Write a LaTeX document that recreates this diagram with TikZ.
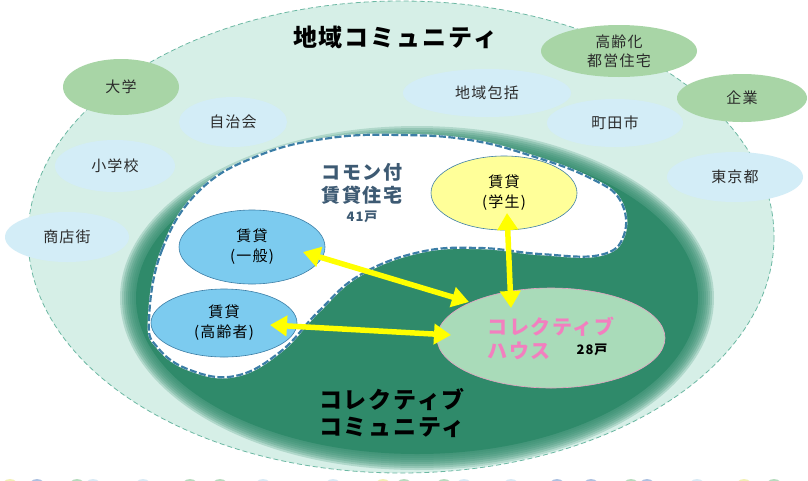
\documentclass[tikz,border=0pt]{standalone}
\usepackage{fontspec}
\setmainfont{Noto Sans CJK JP}[LetterSpace=8]
\usetikzlibrary{shapes.geometric,arrows.meta,positioning}
\definecolor{mint}{HTML}{D6EFE7}
\definecolor{ringdash}{HTML}{6CB8A3}
\definecolor{deepgreen}{HTML}{2F8A6A}
\definecolor{paleblue}{HTML}{D3EDF7}
\definecolor{sage}{HTML}{A8D5A6}
\definecolor{sky}{HTML}{7CCBEF}
\definecolor{lemon}{HTML}{FFFF99}
\definecolor{rimblue}{HTML}{3C7EA6}
\definecolor{housegreen}{HTML}{A9DBB9}
\definecolor{housepink}{HTML}{E7A1C3}
\definecolor{pinktext}{HTML}{F27FBF}
\definecolor{slate}{HTML}{3D5A73}
\definecolor{labelgray}{HTML}{2B2B2B}
\definecolor{arrowyellow}{HTML}{FFFF00}
\definecolor{dotblue}{HTML}{6A8FC8}
\definecolor{dotgreen}{HTML}{7CC08A}
\definecolor{dotpale}{HTML}{B8D8EC}
\definecolor{dotyellow}{HTML}{E8E27A}
\begin{document}
\begin{tikzpicture}[x=1pt,y=-1pt,
  bubble/.style={ellipse,inner sep=0pt,text=labelgray,align=center,
    font=\fontsize{15}{19}\selectfont},
  outerblue/.style={bubble,fill=paleblue},
  outergreen/.style={bubble,fill=sage},
  rental/.style={bubble,draw=rimblue,line width=0.6pt,text=black,
    font=\fontsize{15}{20}\selectfont},
  link/.style={{Triangle[length=17pt,width=20pt]}-{Triangle[length=17pt,width=20pt]},
    line width=5.5pt,draw=arrowyellow}
]
\useasboundingbox (0,0) rectangle (808,480);
\fill[white] (0,0) rectangle (808,480);
% bottom dots (cut off)
\foreach \x/\c in {10/dotyellow,37/dotblue,77/dotgreen,93/dotpale,143/dotpale,
  190/dotgreen,220/dotgreen,263/dotpale,333/dotpale,383/dotyellow,404/dotgreen,
  444/dotgreen,464/dotpale,511/dotpale,557/dotblue,591/dotblue,631/dotgreen,
  647/dotblue,697/dotpale,744/dotyellow,774/dotgreen}
  \fill[\c, opacity=0.55] (\x,488) circle (9);
% local community
\filldraw[fill=mint, draw=ringdash, dash pattern=on 5pt off 3pt, line width=0.8pt]
  (401,237) ellipse (373 and 236);
% collective community, soft edge
\foreach \k in {1,...,8}
  \fill[deepgreen, opacity=0.22] (417,298) ellipse ({281+2*\k} and {156+2*\k});
\fill[deepgreen] (417,298) ellipse (281 and 156);
% common rental housing
\def\blob{plot[smooth cycle, tension=0.7] coordinates {(149,320) (162,250) (200,190)
  (260,155) (330,138) (400,135) (470,140) (535,157) (590,178) (620,200) (624,235)
  (600,255) (540,254) (480,248) (420,252) (360,275) (318,312) (280,352) (235,376)
  (190,370) (158,348)}}
\filldraw[fill=white, draw=white, line width=2.4pt] \blob;
\draw[draw=rimblue, line width=2.2pt, dash pattern=on 7pt off 2.5pt] \blob;

% outer members
\node[outergreen, minimum width=116pt, minimum height=56pt] (daigaku) at (121,87) {大学};
\node[outerblue, minimum width=108pt, minimum height=50pt] (jichikai) at (233,122) {自治会};
\node[outerblue, minimum width=120pt, minimum height=52pt] (shogakko) at (115,166) {小学校};
\node[outerblue, minimum width=124pt, minimum height=50pt] (shotengai) at (67,237) {商店街};
\node[outerblue, minimum width=168pt, minimum height=48pt] (hokatsu) at (487,93) {地域包括};
\node[outerblue, minimum width=136pt, minimum height=48pt] (machida) at (615,123) {町田市};
\node[outergreen, minimum width=156pt, minimum height=52pt] (toei) at (619,51) {高齢化\\都営住宅};
\node[outergreen, minimum width=130pt, minimum height=48pt] (kigyo) at (742,98) {企業};
\node[outerblue, minimum width=136pt, minimum height=50pt] (tokyo) at (735,177) {東京都};

% titles
\node[font=\bfseries\fontsize{24}{27}\selectfont] (chiiki) at (395,37) {地域コミュニティ};
\node[font=\bfseries\fontsize{19}{23}\selectfont, text=slate, align=center] (common) at (362,184)
  {コモン付\\賃貸住宅};
\node[font=\bfseries\fontsize{13}{15}\selectfont, text=slate] (kosu41) at (362,217) {41戸};
\node[font=\bfseries\fontsize{23}{27}\selectfont, align=left] (collective) at (392,413)
  {コレクティブ\\コミュニティ};

% rental units
\node[rental, fill=sky, minimum width=146pt, minimum height=74pt] (ippan) at (252,247) {賃貸\\(一般)};
\node[rental, fill=sky, minimum width=146pt, minimum height=68pt] (korei) at (224,323) {賃貸\\(高齢者)};
\node[rental, fill=lemon, minimum width=146pt, minimum height=74pt] (gakusei) at (504,193) {賃貸\\(学生)};
\node[ellipse, fill=housegreen, draw=housepink, line width=0.6pt, inner sep=0pt,
  minimum width=228pt, minimum height=100pt, text=pinktext, align=left,
  font=\bfseries\fontsize{20}{24}\selectfont] (house) at (551,338) {コレクティブ\\ハウス};
\node[font=\bfseries\fontsize{13}{15}\selectfont] (kosu28) at (592,350) {28戸};

% links
\draw[link] ([shift={(51,5)}]ippan.center) -- ([shift={(-82,-36)}]house.center);
\draw[link] ([shift={(46,2)}]korei.center) -- ([shift={(-100,-3)}]house.center);
\draw[link] ([shift={(3,20)}]gakusei.center) -- ([shift={(-40,-30)}]house.center);
\end{tikzpicture}
\end{document}
